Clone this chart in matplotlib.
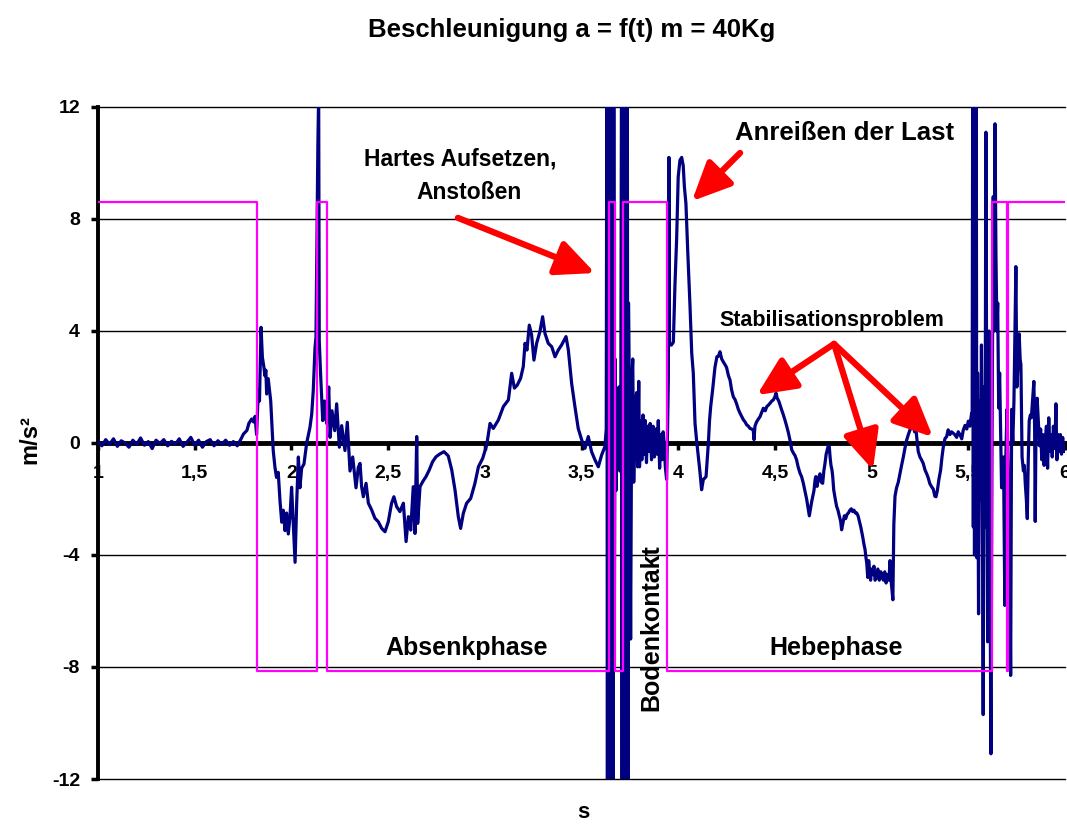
import matplotlib
matplotlib.use('Agg')
import matplotlib.pyplot as plt
from matplotlib.ticker import FuncFormatter

plt.rcParams['font.family'] = ['Liberation Sans', 'DejaVu Sans']
plt.rcParams['font.weight'] = 'bold'
plt.rcParams['axes.unicode_minus'] = False

# measured acceleration (s, m/s^2)
t = [
    1.00, 1.02, 1.04, 1.06, 1.08, 1.10, 1.12, 1.14, 1.16, 1.18,
    1.20, 1.22, 1.24, 1.26, 1.28, 1.30, 1.32, 1.34, 1.36, 1.38,
    1.40, 1.42, 1.44, 1.46, 1.48, 1.50, 1.52, 1.54, 1.56, 1.58,
    1.60, 1.62, 1.64, 1.66, 1.68, 1.70, 1.72, 1.74, 1.752, 1.77,
    1.78, 1.795, 1.805, 1.812, 1.820, 1.829, 1.835, 1.843, 1.850, 1.858,
    1.863, 1.868, 1.872, 1.880, 1.893, 1.901, 1.906, 1.915, 1.923, 1.932,
    1.941, 1.950, 1.958, 1.967, 1.975, 1.984, 1.993, 2.001, 2.010, 2.019,
    2.027, 2.036, 2.044, 2.053, 2.065, 2.079, 2.096, 2.105, 2.113, 2.122,
    2.127, 2.134, 2.137, 2.141, 2.144, 2.151, 2.162, 2.172, 2.182, 2.193,
    2.200, 2.210, 2.224, 2.234, 2.248, 2.260, 2.277, 2.289, 2.303, 2.317,
    2.334, 2.346, 2.355, 2.363, 2.372, 2.386, 2.398, 2.415, 2.432, 2.449,
    2.467, 2.484, 2.501, 2.518, 2.530, 2.544, 2.561, 2.579, 2.593, 2.605,
    2.617, 2.630, 2.639, 2.648, 2.653, 2.665, 2.679, 2.696, 2.713, 2.730,
    2.748, 2.768, 2.789, 2.811, 2.829, 2.846, 2.863, 2.875, 2.889, 2.906,
    2.927, 2.949, 2.967, 2.989, 3.010, 3.027, 3.044, 3.070, 3.096, 3.122,
    3.139, 3.153, 3.168, 3.185, 3.199, 3.208, 3.218, 3.230, 3.242, 3.254,
    3.268, 3.285, 3.299, 3.311, 3.328, 3.346, 3.363, 3.380, 3.397, 3.420,
    3.432, 3.449, 3.466, 3.483, 3.501, 3.518, 3.535, 3.552, 3.570, 3.587,
    3.604, 3.621, 3.628,
    3.631, 3.634, 3.637, 3.640, 3.643, 3.646, 3.649, 3.652, 3.655, 3.658,
    3.661, 3.664, 3.667, 3.670,
    3.674, 3.678, 3.683, 3.688, 3.693, 3.698, 3.703,
    3.707, 3.710, 3.713, 3.716, 3.719, 3.722, 3.725, 3.728, 3.731, 3.734,
    3.737, 3.740, 3.743,
    3.748, 3.754, 3.760, 3.765, 3.770, 3.778, 3.785, 3.790, 3.796, 3.800,
    3.806, 3.812, 3.818, 3.824, 3.830, 3.836, 3.842, 3.848, 3.855, 3.862,
    3.870, 3.877, 3.884, 3.891, 3.897, 3.904, 3.910, 3.916, 3.922, 3.928,
    3.934, 3.940, 3.945, 3.949, 3.952, 3.955, 3.965, 3.975, 3.983, 3.992,
    4.000, 4.009, 4.018, 4.026, 4.032, 4.040, 4.049, 4.061, 4.070, 4.078,
    4.087, 4.095, 4.104, 4.112, 4.121, 4.130, 4.138, 4.144, 4.150, 4.156,
    4.162, 4.168, 4.178, 4.190, 4.200, 4.208, 4.216, 4.225, 4.233, 4.242,
    4.250, 4.260, 4.268, 4.276, 4.285, 4.294, 4.302, 4.311, 4.320, 4.328,
    4.337, 4.346, 4.354, 4.363, 4.371, 4.380, 4.388, 4.392, 4.397, 4.405,
    4.414, 4.423, 4.432, 4.440, 4.450, 4.458, 4.466, 4.475, 4.484, 4.492,
    4.500, 4.506, 4.512, 4.520, 4.527, 4.535, 4.544, 4.552, 4.561, 4.570,
    4.578, 4.587, 4.595, 4.604, 4.612, 4.620, 4.630, 4.638, 4.647, 4.655,
    4.664, 4.671, 4.678, 4.685, 4.690, 4.696, 4.702, 4.708, 4.712, 4.718,
    4.724, 4.733, 4.740, 4.747, 4.753, 4.759, 4.765, 4.771, 4.776, 4.781,
    4.786, 4.790, 4.795, 4.799, 4.804, 4.812, 4.819, 4.826, 4.833, 4.840,
    4.845, 4.852, 4.859, 4.866, 4.873, 4.880, 4.888, 4.895, 4.902, 4.909,
    4.916, 4.923, 4.930, 4.937, 4.944, 4.950, 4.954, 4.960, 4.966, 4.971,
    4.975, 4.980, 4.985, 4.990, 4.995, 5.000, 5.006, 5.012, 5.018, 5.026,
    5.032, 5.040, 5.048, 5.055, 5.061, 5.068, 5.075, 5.082, 5.090, 5.095,
    5.102, 5.110, 5.115, 5.121, 5.129, 5.138, 5.147, 5.155, 5.164, 5.172,
    5.181, 5.190, 5.198, 5.207, 5.216, 5.222, 5.228, 5.233, 5.241, 5.250,
    5.258, 5.267, 5.276, 5.285, 5.293, 5.301, 5.310, 5.319, 5.327, 5.333,
    5.340, 5.348, 5.357, 5.364, 5.371, 5.379, 5.388, 5.396, 5.405, 5.413,
    5.422, 5.430, 5.440, 5.448, 5.457, 5.466, 5.474, 5.483, 5.492, 5.500,
    5.508, 5.517, 5.520,
    5.523, 5.526, 5.529, 5.532, 5.535, 5.538, 5.541, 5.544, 5.548, 5.553,
    5.558, 5.563, 5.568, 5.572, 5.577, 5.582, 5.586, 5.591, 5.595, 5.600,
    5.604, 5.608, 5.612, 5.617, 5.622, 5.629, 5.633, 5.638, 5.643, 5.648,
    5.652, 5.657, 5.662, 5.667, 5.672, 5.677, 5.682, 5.689, 5.693, 5.700,
    5.706, 5.713, 5.719, 5.724, 5.730, 5.736, 5.746, 5.751, 5.757, 5.763,
    5.768, 5.772, 5.778, 5.785, 5.790, 5.795, 5.800, 5.805, 5.810, 5.815,
    5.821, 5.826, 5.832, 5.839, 5.843, 5.846, 5.850, 5.856, 5.862, 5.868,
    5.874, 5.880, 5.886, 5.892, 5.898, 5.904, 5.910, 5.916, 5.922, 5.928,
    5.934, 5.940, 5.948, 5.953, 5.958, 5.964, 5.970, 5.976, 5.982, 5.988,
    5.994, 6.000,
]
a = [
    0.05, -0.10, 0.12, -0.05, 0.15, -0.12, 0.08, 0.00, -0.15, 0.10,
    -0.05, 0.18, -0.08, 0.05, -0.20, 0.10, -0.02, 0.12, -0.10, 0.06,
    -0.05, 0.15, -0.12, 0.03, 0.20, -0.08, 0.10, -0.15, 0.05, 0.12,
    -0.10, 0.08, -0.05, 0.10, -0.08, 0.05, -0.10, 0.15, 0.32, 0.45,
    0.70, 0.86, 0.75, 0.95, 0.30, 1.87, 1.50, 4.13, 3.06, 2.70,
    2.40, 2.60, 1.75, 2.30, 1.50, 0.44, -0.27, -0.87, -1.23, -1.05,
    -2.06, -2.83, -2.40, -3.13, -2.50, -3.25, -2.60, -1.58, -2.90, -4.26,
    -2.20, -0.50, -1.60, -0.90, -0.75, 0.00, 0.56, 1.03, 1.87, 3.40,
    3.77, 8.65, 10.70, 12.50, 3.65, 2.46, 0.80, 1.50, 0.70, 2.00,
    0.20, 1.15, 0.44, 1.40, -0.15, 0.62, -0.27, 0.74, -1.00, -0.50,
    -1.60, -0.87, -0.73, -1.56, -1.92, -1.44, -2.15, -2.39, -2.69, -2.81,
    -3.05, -3.17, -2.81, -2.15, -1.92, -2.27, -2.45, -2.15, -3.52, -2.63,
    -3.11, -1.56, -3.23, 0.23, -2.87, -1.56, -1.38, -1.20, -0.96, -0.67,
    -0.49, -0.39, -0.31, -0.46, -0.96, -1.68, -2.63, -3.05, -2.51, -2.15,
    -1.98, -1.44, -0.85, -0.55, -0.07, 0.70, 0.52, 0.82, 1.30, 1.54,
    2.49, 1.96, 2.07, 2.31, 2.73, 3.56, 3.32, 4.21, 3.86, 2.96,
    3.56, 3.98, 4.51, 3.92, 3.56, 3.44, 3.08, 3.32, 3.50, 3.80,
    3.32, 2.13, 1.30, 0.52, 0.11, -0.19, 0.23, -0.31, -0.61, -0.85,
    -0.43, -0.13, 0.50,
    14.0, -14.0, 14.0, -14.0, 14.0, -14.0, 14.0, -14.0, 14.0, -14.0,
    14.0, -14.0, 14.0, -6.0,
    3.0, -1.7, 1.0, -0.8, 2.0, -1.0, 0.5,
    14.0, -14.0, 14.0, -14.0, 14.0, -14.0, 14.0, -14.0, 14.0, -14.0,
    14.0, -14.0, 5.0,
    1.4, -7.0, 2.2, 3.0, -1.4, 1.4, 1.8, -0.85, 2.2, -0.85,
    0.8, -0.6, 1.0, -0.4, 0.8, -0.7, 0.6, -0.3, 0.7, -0.6,
    0.6, -0.5, 0.5, -0.4, 0.8, -0.9, 0.3, -0.6, 0.4, -0.2,
    -0.9, -1.3, 0.5, 2.25, 10.2, 3.5, 3.5, 3.6, 5.6, 7.3,
    9.5, 10.1, 10.2, 9.9, 9.15, 8.55, 6.9, 4.9, 3.2, 2.5,
    0.7, 0.1, -0.48, -1.0, -1.67, -1.3, -1.25, -1.2, -0.6, 0.0,
    0.8, 1.3, 1.9, 2.7, 3.08, 3.1, 3.26, 3.0, 2.9, 2.8,
    2.7, 2.4, 2.25, 1.9, 1.65, 1.55, 1.4, 1.2, 1.06, 0.95,
    0.83, 0.75, 0.65, 0.6, 0.52, 0.5, 0.46, 0.12, 0.6, 0.75,
    0.85, 0.94, 1.1, 1.24, 1.15, 1.3, 1.35, 1.42, 1.5, 1.54,
    1.65, 1.78, 1.6, 1.5, 1.35, 1.18, 1.0, 0.82, 0.6, 0.36,
    0.1, -0.24, -0.35, -0.45, -0.6, -0.85, -1.08, -1.2, -1.44, -1.7,
    -2.0, -2.3, -2.6, -2.3, -2.1, -1.9, -1.7, -1.3, -1.2, -1.55,
    -1.3, -1.1, -1.4, -1.44, -1.0, -0.73, -0.4, -0.24, -0.1, -0.12,
    -0.55, -0.8, -0.96, -1.2, -1.67, -2.0, -2.26, -2.4, -2.6, -2.8,
    -3.1, -2.85, -2.6, -2.7, -2.55, -2.5, -2.4, -2.35, -2.45, -2.4,
    -2.5, -2.5, -2.6, -2.8, -3.0, -3.2, -3.35, -3.6, -3.8, -4.1,
    -4.3, -4.8, -4.2, -4.6, -4.9, -4.5, -4.7, -4.4, -4.9, -4.8,
    -4.5, -4.9, -4.6, -4.8, -4.9, -4.6, -5.0, -4.7, -4.9, -4.2,
    -5.0, -5.6, -2.9, -1.9, -1.6, -1.4, -1.08, -0.8, -0.5, -0.2,
    0.1, 0.3, 0.46, 0.55, 0.7, 0.4, 0.6, 0.23, -0.3, -0.5,
    -0.6, -0.73, -0.96, -1.1, -1.25, -1.45, -1.56, -1.65, -1.9, -1.92,
    -1.7, -1.3, -0.96, -0.5, -0.13, 0.15, 0.23, 0.47, 0.3, 0.4,
    0.35, 0.3, 0.2, 0.4, 0.3, 0.15, 0.46, 0.63, 0.5, 0.78,
    0.6, 1.06, 0.94,
    14.0, -3.0, 14.0, -4.0, 14.0, -2.0, 14.0, -4.1, 2.5, -6.1,
    1.5, -2.0, 3.5, -1.0, -9.7, 2.0, -3.0, 11.1, 2.0, -7.1,
    -2.0, 4.0, -4.0, -11.1, -1.0, 8.8, 4.0, 11.4, 6.7, 4.0,
    5.0, 1.25, 2.5, 0.5, -1.6, -1.3, -0.5, -5.8, -0.8, 1.2,
    -1.0, -3.0, -8.3, 1.2, 0.0, 1.5, 6.3, 2.0, 2.8, 3.9,
    3.0, 2.8, -0.5, -1.0, -0.8, -1.5, -2.0, -2.7, -0.6, 0.8,
    1.0, 0.9, 1.5, 2.2, 0.5, -2.8, 0.5, 1.6, 0.8, -0.1,
    0.5, -0.6, 0.3, -0.8, 0.1, 0.6, -0.9, 0.9, -0.3, 0.3,
    -0.5, 0.6, -0.2, 1.4, -0.6, 0.3, -0.3, 0.3, -0.4, 0.2,
    -0.3, -0.3,
]

# phase signal (step levels)
phase_t = [1.0, 1.822, 2.132, 2.184, 3.642, 3.673, 3.715, 3.942, 5.620, 5.698, 5.703, 6.0]
phase_a = [8.6, -8.15, 8.6, -8.15, 8.6, -8.15, 8.6, -8.15, 8.6, -8.15, 8.6, 8.6]

x_ticks = [1, 1.5, 2, 2.5, 3, 3.5, 4, 4.5, 5, 5.5, 6]
y_ticks = [-12, -8, -4, 0, 4, 8, 12]

W, H = 1067, 826
fig = plt.figure(figsize=(W / 100, H / 100), dpi=100)
ax = fig.add_axes([98 / W, 1 - 779 / H, 967 / W, 672 / H])

ax.plot(t, a, color='#000080', lw=2.3, zorder=4)
ax.step(phase_t, phase_a, where='post', color='#ff00ff', lw=1.6, zorder=5)

ax.set_xlim(1, 6)
ax.set_ylim(-12, 12)
ax.set_xticks(x_ticks)
ax.set_yticks(y_ticks)
ax.xaxis.set_major_formatter(FuncFormatter(lambda v, p: ('%g' % v).replace('.', ',')))
for y in y_ticks:
    if y != 0:
        ax.axhline(y, color='black', lw=1.0, zorder=1, clip_on=False)

ax.spines['top'].set_visible(False)
ax.spines['right'].set_visible(False)
ax.spines['left'].set_linewidth(2.8)
ax.spines['bottom'].set_position(('data', 0))
ax.spines['bottom'].set_linewidth(3.5)
ax.tick_params(axis='y', direction='out', length=5, width=2.5, pad=8, labelsize=14)
ax.tick_params(axis='x', direction='out', length=5, width=2.5, pad=11, labelsize=14)
for lbl in ax.get_xticklabels() + ax.get_yticklabels():
    lbl.set_fontweight('bold')

fig.text(572 / W, 1 - 30 / H, 'Beschleunigung a = f(t) m = 40Kg',
         ha='center', va='center', fontsize=18.5, fontweight='bold')
fig.text(583 / W, 1 - 812 / H, 's', ha='center', va='center', fontsize=16, fontweight='bold')
fig.text(30 / W, 1 - 440 / H, 'm/s²', ha='center', va='center', rotation=90,
         fontsize=17, fontweight='bold')

txt = dict(ha='center', va='center', fontweight='bold', zorder=6)
ax.text(2.872, 10.14, 'Hartes Aufsetzen,', fontsize=16.5, **txt)
ax.text(2.918, 8.93, 'Anstoßen', fontsize=16.5, **txt)
ax.text(4.862, 11.07, 'Anreißen der Last', fontsize=18.5, **txt)
ax.text(4.795, 4.39, 'Stabilisationsproblem', fontsize=15.5, **txt)
ax.text(2.908, -7.32, 'Absenkphase', fontsize=18, **txt)
ax.text(4.816, -7.32, 'Hebephase', fontsize=18, **txt)
ax.text(3.859, -6.6, 'Bodenkontakt', fontsize=18, rotation=90, **txt)

arrow = dict(arrowstyle='-|>,head_length=1.3,head_width=0.6', color='red', lw=4.5,
             shrinkA=0, shrinkB=0, mutation_scale=18)
ax.annotate('', xy=(3.570, 6.07), xytext=(2.861, 8.04), arrowprops=arrow, zorder=7)
ax.annotate('', xy=(4.071, 8.64), xytext=(4.320, 10.36), arrowprops=arrow, zorder=7)
for tip in [(4.407, 1.71), (5.007, -0.96), (5.317, 0.21)]:
    ax.annotate('', xy=tip, xytext=(4.806, 3.54), arrowprops=arrow, zorder=7)

fig.savefig('out.png', dpi=100)
